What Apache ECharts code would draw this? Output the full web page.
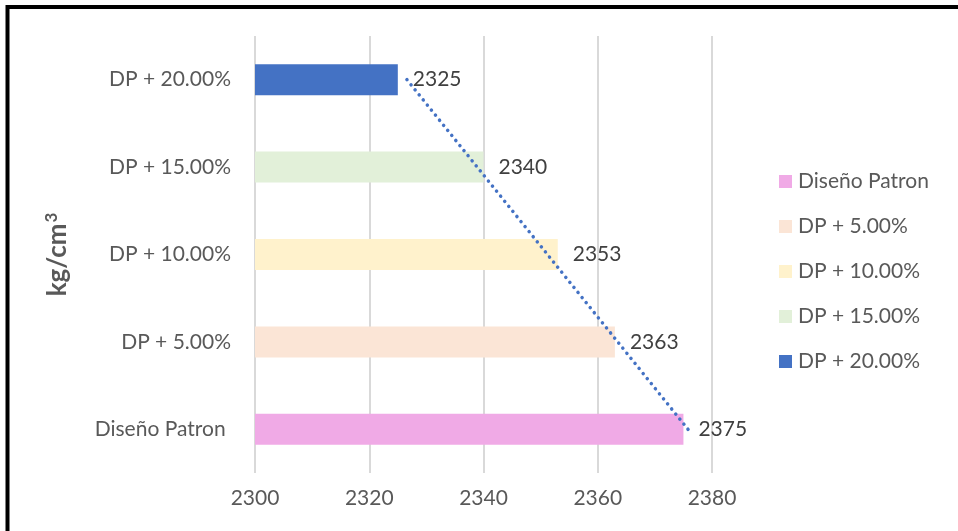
<!DOCTYPE html>
<html>
<head>
<meta charset="utf-8">
<script src="https://cdn.jsdelivr.net/npm/echarts@6/dist/echarts.min.js"></script>
<style>
  html, body { margin: 0; padding: 0; background: #fff; }
  #chart { width: 958px; height: 531px; }
</style>
</head>
<body>
<div id="chart"></div>
<script>
// Density per mix, bottom to top on the category axis
const categories = ['Diseño Patron ', 'DP + 5.00%', 'DP + 10.00%', 'DP + 15.00%', 'DP + 20.00%'];
const densities = [2375, 2363, 2353, 2340, 2325];
const barColors = ['#F0AAE6', '#FBE5D6', '#FFF2CC', '#E2F0D9', '#4472C4'];
// Linear trend line ends (first and last category)
const trendEnds = [2375.8, 2326.6];
const xTicks = { min: 2300, max: 2380, step: 20 };

const FONT = 'Lato';
const chart = echarts.init(document.getElementById('chart'), null, { renderer: 'canvas' });

// one series per mix so every mix gets its own legend entry; all overlap in the same slot
const barSeries = categories.map((name, i) => ({
  name: name,
  type: 'bar',
  barWidth: 31,
  barGap: '-100%',
  itemStyle: { color: barColors[i] },
  label: {
    show: true,
    position: 'right',
    distance: 15,
    color: '#404040',
    fontFamily: FONT,
    fontSize: 21,
    formatter: p => String(p.value)
  },
  data: densities.map((v, j) => (j === i ? v : '-'))
}));

const trendSeries = {
  name: 'Tendencia',
  type: 'line',
  symbol: 'none',
  silent: true,
  z: 5,
  lineStyle: { color: '#4472C4', width: 3.5, type: [0.1, 6.4], cap: 'round' },
  data: [[trendEnds[0], 0], [trendEnds[1], categories.length - 1]]
};

chart.setOption({
  animation: false,
  backgroundColor: '#ffffff',
  textStyle: { fontFamily: FONT },
  graphic: [{
    type: 'rect',
    shape: { x: 7.5, y: 7, width: 2000, height: 2000 },
    style: { fill: 'none', stroke: '#000', lineWidth: 4 },
    silent: true
  }],
  grid: { left: 255, right: 246, top: 36, bottom: 58, containLabel: false },
  legend: {
    orient: 'vertical',
    left: 779,
    top: 171,
    padding: 0,
    data: categories.slice(),
    icon: 'rect',
    itemWidth: 13,
    itemHeight: 13,
    itemGap: 24,
    textStyle: { color: '#595959', fontFamily: FONT, fontSize: 21, lineHeight: 20, padding: [0, 0, 0, 1] }
  },
  xAxis: {
    type: 'value',
    min: xTicks.min,
    max: xTicks.max,
    interval: xTicks.step,
    axisLine: { show: false },
    axisTick: { show: false },
    axisLabel: { color: '#595959', fontFamily: FONT, fontSize: 21, margin: 15, formatter: v => String(v) },
    splitLine: { show: true, lineStyle: { color: '#D9D9D9', width: 2 } }
  },
  yAxis: {
    type: 'category',
    data: categories,
    axisLine: { show: false },
    axisTick: { show: false },
    axisLabel: { color: '#595959', fontFamily: FONT, fontSize: 21, margin: 24 },
    name: 'kg/cm{sup|3}',
    nameLocation: 'middle',
    nameRotate: 90,
    nameGap: 182,
    nameTextStyle: {
      color: '#595959', fontFamily: FONT, fontSize: 26, fontWeight: 'bold', lineHeight: 30,
      rich: {
        sup: { color: '#595959', fontFamily: FONT, fontSize: 17, fontWeight: 'bold', verticalAlign: 'top', lineHeight: 30, padding: [0, 0, 10, 1] }
      }
    }
  },
  series: barSeries.concat([trendSeries])
});
</script>
</body>
</html>
